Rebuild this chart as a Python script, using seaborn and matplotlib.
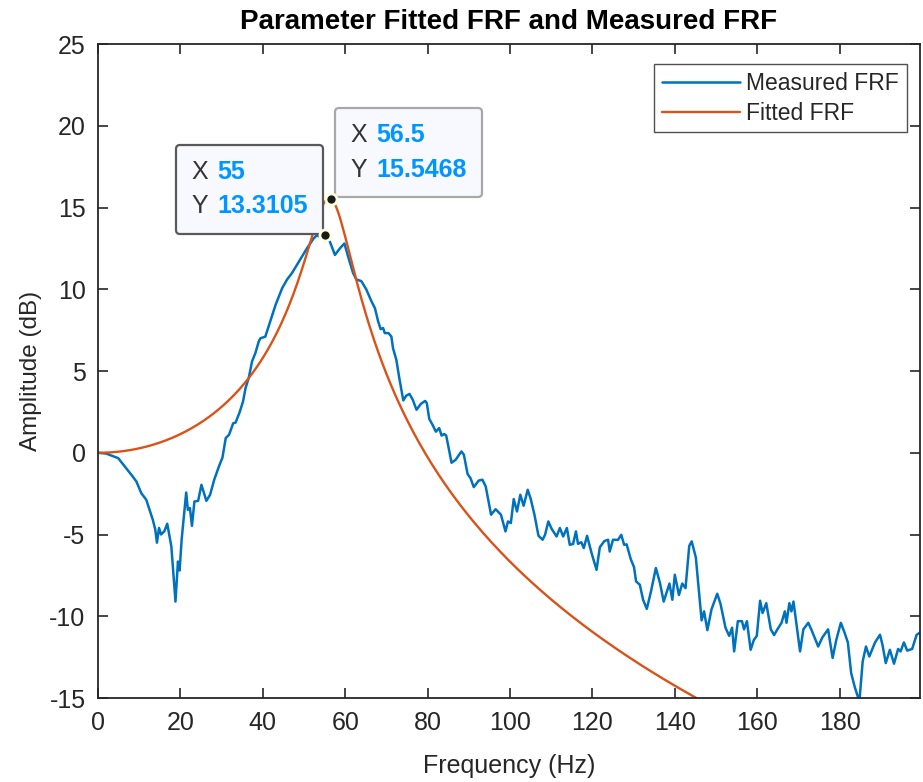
import numpy as np
import pandas as pd
import matplotlib
matplotlib.use("Agg")
import matplotlib.pyplot as plt
import seaborn as sns
from matplotlib.offsetbox import TextArea, HPacker, VPacker, AnnotationBbox

# Measured FRF (frequency in Hz, amplitude in dB)
meas_freq = [
    0, 2, 4.9, 6.5, 8.1, 9.3, 10.5, 11.7, 12.5, 13.3, 13.9, 14.3, 14.8, 15.3, 16.1, 16.8,
    17.8, 18.1, 18.8, 19.4, 19.8, 20.3, 21.4, 21.8, 22.3, 22.8, 23.4, 24.3, 25.1, 25.6,
    26.3, 27.2, 28.2, 29.4, 30.2, 31.0, 31.8, 32.8, 33.4, 34.4, 35.2, 35.8, 36.6, 37.4,
    38.2, 39.0, 39.4, 40.6, 41.4, 42.2, 43.1, 43.9, 44.7, 45.9, 47.1, 48.3, 49.5, 50.7,
    51.5, 52.3, 53.1, 54.0, 55.0, 56.3, 57.5, 58.7, 59.8, 60.7, 61.9, 62.7, 63.9, 65.1,
    66.3, 67.2, 68.0, 68.6, 69.2, 69.6, 70.5, 71.2, 71.6, 72.4, 73.2, 74.1, 74.8, 75.6,
    76.4, 77.3, 78.4, 79.4, 79.8, 80.4, 81.2, 82.0, 82.8, 83.4, 84.0, 84.5, 85.2, 85.8,
    86.8, 88.2, 88.8, 89.7, 90.4, 91.2, 92.4, 93.3, 94.1, 95.4, 96.5, 97.8, 98.9, 99.5,
    100.2, 100.9, 101.7, 102.5, 103.3, 104.3, 105.0, 105.9, 106.9, 107.9, 108.5, 109.3,
    110.1, 111.3, 112.1, 112.9, 113.8, 114.5, 115.3, 116.0, 116.5, 117.3, 117.9, 118.7,
    119.8, 121.0, 121.8, 122.9, 123.8, 124.2, 125.0, 126.2, 127.0, 127.7, 128.3, 129.3,
    130.1, 130.6, 131.5, 132.3, 133.2, 134.2, 135.4, 136.4, 137.3, 138.7, 139.4, 140.0,
    141.0, 141.8, 142.6, 143.5, 144.1, 145.1, 146.5, 147.1, 147.9, 148.9, 150.3, 151.1,
    152.3, 153.2, 153.9, 154.4, 155.3, 156.3, 156.8, 157.5, 158.4, 159.2, 159.9, 160.7,
    161.3, 162.2, 163.3, 164.1, 164.9, 165.9, 166.7, 167.1, 167.8, 168.3, 168.8, 170.4,
    171.2, 172.4, 173.2, 174.8, 175.8, 177.2, 178.3, 179.2, 180.3, 181.2, 182.0, 182.8,
    183.7, 184.8, 185.6, 186.4, 187.2, 188.6, 189.8, 190.4, 191.2, 192.2, 193.2, 194.2,
    194.8, 195.6, 196.4, 197.6, 198.7, 199.5,
]
meas_db = [
    0.0, -0.05, -0.33, -0.84, -1.35, -1.75, -2.47, -2.87, -3.49, -4.1, -4.7, -5.5, -4.6, -5.0, -4.8, -4.34,
    -5.73, -6.75, -9.1, -6.65, -7.2, -5.3, -2.43, -3.49, -3.38, -4.47, -2.98, -2.94, -1.96, -2.37,
    -2.94, -2.57, -1.65, -0.8, -0.3, 0.9, 1.1, 1.8, 1.85, 2.5, 3.14, 3.95, 4.6, 5.6,
    6.1, 6.8, 7.0, 7.1, 7.73, 8.34, 9.05, 9.56, 10.07, 10.6, 11.0, 11.5, 12.0, 12.5,
    12.8, 13.1, 13.3, 13.2, 13.3105, 12.9, 12.1, 12.5, 12.8, 12.0, 11.0, 10.6, 10.5, 10.0,
    9.3, 8.85, 8.03, 7.56, 7.63, 7.32, 7.32, 7.11, 6.4, 5.69, 4.46, 3.2, 3.49, 3.6,
    3.24, 2.63, 3.0, 3.17, 3.04, 2.07, 1.71, 1.29, 1.51, 1.05, 1.15, 1.06, 0.18, -0.61,
    -0.43, 0.08, -0.12, -1.3, -1.55, -2.1, -1.7, -1.65, -2.06, -3.79, -3.45, -3.79, -4.81, -4.2,
    -4.3, -2.83, -3.59, -2.57, -3.24, -2.26, -2.8, -3.75, -5.07, -5.32, -5.02, -4.2,
    -4.65, -5.12, -4.6, -5.12, -4.6, -5.63, -5.58, -4.81, -5.57, -5.47, -5.83, -5.08,
    -6.14, -7.16, -5.78, -5.4, -5.32, -6.04, -5.32, -5.33, -5.02, -5.63, -5.6, -6.5,
    -7.0, -7.87, -8.07, -8.99, -9.55, -8.5, -7.05, -7.97, -9.1, -8.0, -8.99, -7.46,
    -8.7, -8.0, -8.28, -5.7, -5.42, -6.4, -10.25, -9.7, -10.85, -9.58, -8.62, -9.25,
    -10.7, -11.2, -10.7, -12.15, -10.3, -10.3, -10.8, -10.3, -12.05, -11.44, -11.2, -9.05,
    -9.8, -9.2, -10.8, -11.15, -10.8, -10.4, -9.7, -10.4, -9.2, -9.7, -9.1, -12.15,
    -10.8, -10.4, -10.85, -11.85, -11.3, -10.8, -12.55, -11.44, -10.4, -11.0, -11.6, -13.47,
    -14.35, -15.2, -12.76, -11.85, -12.46, -11.6, -11.13, -11.74, -12.86, -12.05, -12.9, -12.0,
    -12.15, -11.6, -12.1, -12.0, -11.13, -11.0,
]

# Single-degree-of-freedom fit: natural frequency and peak amplitude
fit_fn = 56.5          # Hz
fit_peak_db = 15.5468  # dB at the natural frequency
fit_df = 0.5           # Hz, frequency resolution
fit_fmax = 199.5       # Hz

# Data tip positions (Hz)
tip_meas_x = 55.0
tip_fit_x = 56.5

x_ticks = [0, 20, 40, 60, 80, 100, 120, 140, 160, 180]
y_ticks = [-15, -10, -5, 0, 5, 10, 15, 20, 25]

BLUE = "#0072BD"
ORANGE = "#D95319"
AX_COLOR = "#262626"
TIP_BLUE = "#0096FF"

sns.set_theme(style="white")
plt.rcParams["font.family"] = ["Liberation Sans", "DejaVu Sans"]
plt.rcParams["axes.unicode_minus"] = False
plt.rcParams["axes.edgecolor"] = AX_COLOR
plt.rcParams["axes.linewidth"] = 1.3
plt.rcParams["xtick.color"] = AX_COLOR
plt.rcParams["ytick.color"] = AX_COLOR

# Fitted FRF from the SDOF receptance model |H| = 1/sqrt((1-r^2)^2 + (2*zeta*r)^2)
zeta = 1.0 / (2.0 * 10 ** (fit_peak_db / 20.0))
fit_freq = np.arange(0, fit_fmax + fit_df / 2, fit_df)
r = fit_freq / fit_fn
fit_db = 20 * np.log10(1.0 / np.abs(1 - r ** 2 + 2j * zeta * r))

meas = pd.DataFrame({"Frequency": meas_freq, "Amplitude": meas_db})
fit = pd.DataFrame({"Frequency": fit_freq, "Amplitude": fit_db})

fig = plt.figure(figsize=(9.23, 7.82), dpi=100)
ax = fig.add_axes([0.1062, 0.1074, 0.8905, 0.8363])

sns.lineplot(data=meas, x="Frequency", y="Amplitude", ax=ax, color=BLUE,
             linewidth=1.8, label="Measured FRF", sort=False)
sns.lineplot(data=fit, x="Frequency", y="Amplitude", ax=ax, color=ORANGE,
             linewidth=1.7, label="Fitted FRF", sort=False)

ax.set_xlim(0, fit_fmax)
ax.set_ylim(-15, 25)
ax.set_xticks(x_ticks)
ax.set_yticks(y_ticks)
ax.tick_params(direction="in", length=7, width=1.2, labelsize=18,
               top=True, right=True, bottom=True, left=True)
ax.tick_params(axis="x", pad=9)
ax.tick_params(axis="y", pad=9)
for s in ax.spines.values():
    s.set_visible(True)
    s.set_color(AX_COLOR)
    s.set_linewidth(1.3)
ax.set_xlabel("Frequency (Hz)", fontsize=18, color=AX_COLOR, labelpad=14)
ax.set_ylabel("Amplitude (dB)", fontsize=17.5, color=AX_COLOR, labelpad=5)
ax.set_title("Parameter Fitted FRF and Measured FRF", fontsize=20, fontweight="bold",
             color="black", pad=10.5)
ax.grid(False)

leg = ax.legend(loc="upper right", bbox_to_anchor=(0.984, 0.969), borderaxespad=0,
                fontsize=16.5, frameon=True, fancybox=False, handlelength=3.4,
                handletextpad=0.3, labelspacing=0.3, borderpad=0.33)
leg.get_frame().set_edgecolor("#262626")
leg.get_frame().set_linewidth(1.0)


def datatip(x, y, align, offset, edge):
    fs = 18
    rows = []
    for name, val in (("X", f"{x:.6g}"), ("Y", f"{y:.6g}")):
        lab = TextArea(name, textprops=dict(color="#333333", fontsize=fs))
        num = TextArea(val, textprops=dict(color=TIP_BLUE, fontsize=fs, fontweight="bold"))
        rows.append(HPacker(children=[lab, num], align="baseline", pad=0, sep=7))
    content = VPacker(children=rows, align="left", pad=11, sep=7.5)
    ab = AnnotationBbox(content, (x, y), xycoords="data", xybox=offset,
                        boxcoords="offset points", box_alignment=align, frameon=True,
                        pad=0.0,
                        bboxprops=dict(boxstyle="round,pad=0,rounding_size=0.25",
                                       facecolor="#F8F8FF", edgecolor=edge, linewidth=1.6),
                        zorder=6)
    ax.add_artist(ab)
    ax.plot([x], [y], marker="o", markersize=8, color="#1a1a1a",
            markeredgecolor="#FFFFE0", markeredgewidth=2.0, zorder=7, clip_on=False)


i_meas = int(np.argmin(np.abs(np.array(meas_freq) - tip_meas_x)))
i_fit = int(np.argmin(np.abs(fit_freq - tip_fit_x)))
datatip(meas_freq[i_meas], meas_db[i_meas], (1, 0), (-1, 1), "#595959")
datatip(fit_freq[i_fit], fit_db[i_fit], (0, 0), (3, 1), "#A8A8A8")

fig.savefig("out.png", dpi=100)
